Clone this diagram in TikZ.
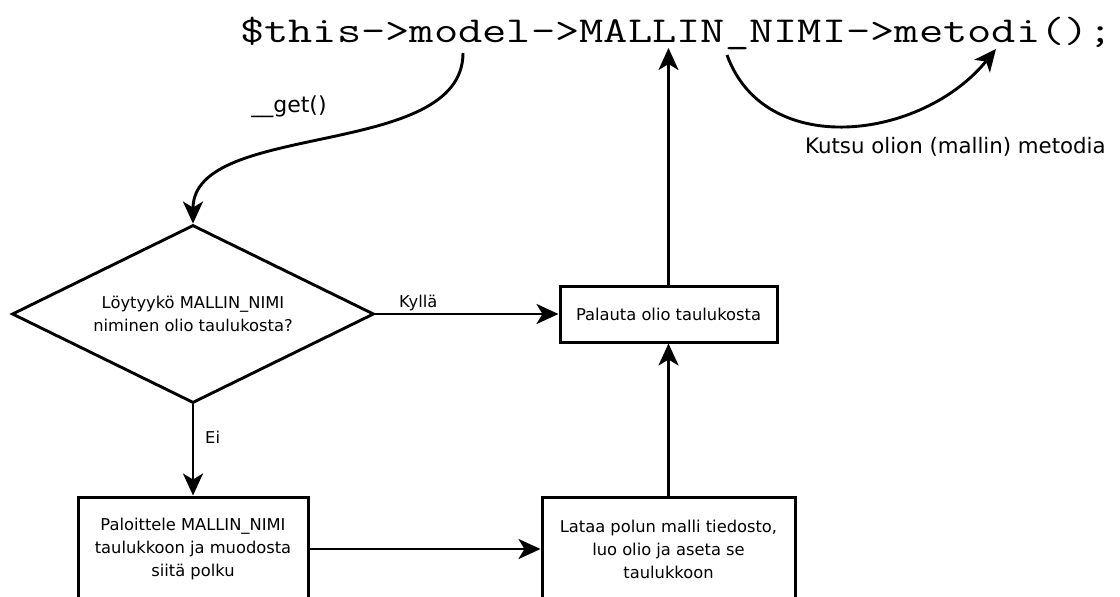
\documentclass[tikz,border=0pt]{standalone}
\usepackage{fontspec}
\setmainfont{DejaVu Sans}
\usetikzlibrary{arrows.meta,shapes.geometric}

\begin{document}
\begin{tikzpicture}[x=1pt,y=-1pt,
  tip/.style={-{Stealth[length=22pt,width=20pt,inset=6pt]}},
  flowline/.style={line width=2.9pt,tip},
  boxtext/.style={font=\fontsize{16.3}{23}\selectfont,align=center},
  procbox/.style={draw,rectangle,line width=3pt,inner sep=0pt,boxtext},
  decision/.style={draw,diamond,aspect=2,line width=2.9pt,inner sep=0pt,
    minimum width=362pt,minimum height=178pt,boxtext},
  lbl/.style={inner sep=0pt}
]
% canvas
\useasboundingbox (0,0) rectangle (1120,597);
\fill[white] (0,0) rectangle (1120,597);
\clip (0,0) rectangle (1120,597);

% the PHP expression at the top
\node[lbl,anchor=base west] (code) at (240,42)
  {\scalebox{1.29}[1]{\fontsize{36.5}{40}\selectfont\ttfamily\$this->model->MALLIN\_NIMI->metodi();}};
\coordinate (getstart) at (463,53);
\coordinate (retend) at (668.5,48);
\coordinate (callstart) at (727,55);
\coordinate (callend) at (996,49);

% flowchart nodes
\node[decision] (dec) at (193,314) {Löytyykö MALLIN\_NIMI\\niminen olio taulukosta?};
\node[procbox,minimum width=217pt,minimum height=56pt] (ret) at (668.5,314) {Palauta olio taulukosta};
\node[procbox,minimum width=230pt,minimum height=104pt] (split) at (193,549)
  {Paloittele MALLIN\_NIMI\\taulukkoon ja muodosta\\siitä polku};
\node[procbox,minimum width=253pt,minimum height=104pt] (load) at (668.5,549)
  {Lataa polun malli tiedosto,\\luo olio ja aseta se\\taulukkoon};

% connectors
\draw[flowline] (getstart) .. controls (463,160) and (193,120) .. (dec.north);
\draw[flowline] (dec.east) -- (ret.west);
\draw[flowline] (dec.south) -- (split.north);
\draw[flowline] (split.east) -- (load.west);
\draw[flowline] (load.north) -- (ret.south);
\draw[flowline] (ret.north) -- (retend);
\draw[flowline] (callstart) .. controls (765,160) and (922,140) .. (callend);

% labels
\node[lbl,anchor=base,font=\fontsize{22}{26}\selectfont] (getlbl) at (289,112) {\_\_get()};
\node[lbl,anchor=base west,font=\fontsize{21.3}{26}\selectfont] (calllbl) at (805,153) {Kutsu olion (mallin) metodia};
\node[lbl,anchor=base west,boxtext] (yes) at (399,307) {Kyllä};
\node[lbl,anchor=base west,boxtext] (no) at (205,443) {Ei};
\end{tikzpicture}
\end{document}
